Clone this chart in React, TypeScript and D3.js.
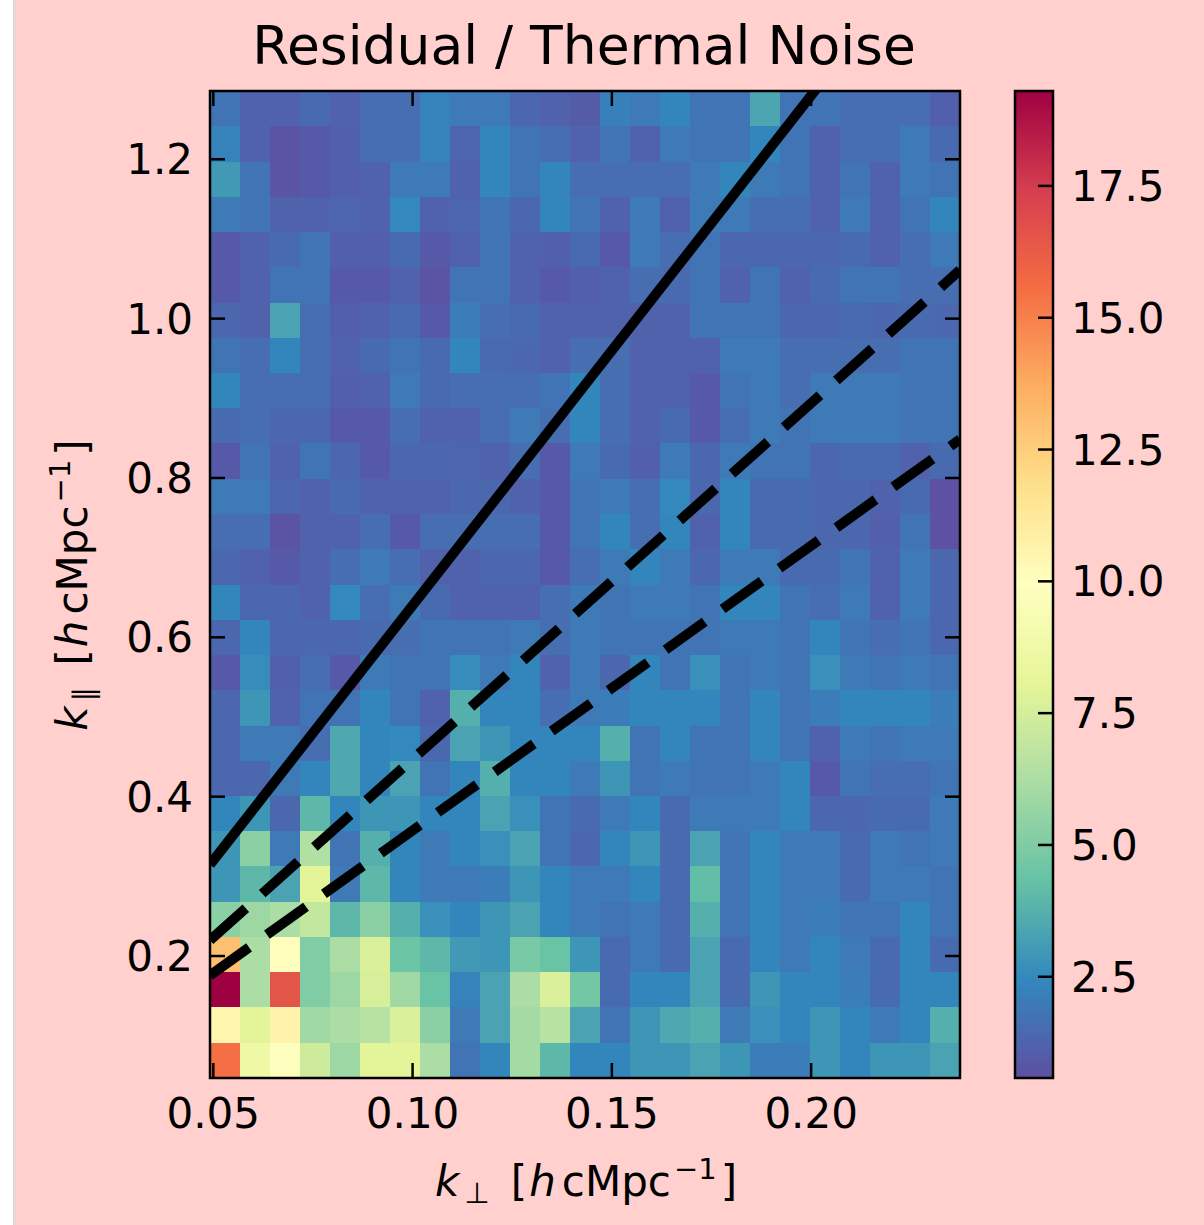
import React from 'react';
import * as d3 from 'd3';

// k_perp bin edges [h cMpc^-1] (25 bins)
const kPerpEdges = [
  0.04917, 0.0567, 0.06422, 0.07175, 0.07928, 0.08681, 0.09433, 0.10186, 0.10939,
  0.11691, 0.12444, 0.13197, 0.13949, 0.14702, 0.15455, 0.16208, 0.1696, 0.17713,
  0.18466, 0.19218, 0.19971, 0.20724, 0.21476, 0.22229, 0.22982, 0.23735,
];
// k_par bin edges [h cMpc^-1] (28 bins)
const kParEdges = [
  0.0469, 0.0911, 0.1354, 0.1796, 0.2239, 0.2681, 0.3124, 0.3566, 0.4008, 0.4451,
  0.4893, 0.5336, 0.5778, 0.6221, 0.6663, 0.7105, 0.7548, 0.799, 0.8433, 0.8875,
  0.9318, 0.976, 1.0202, 1.0645, 1.1087, 1.153, 1.1972, 1.2415, 1.2857,
];

// Residual / thermal noise ratio; rows listed from the highest k_par bin (top) down to the lowest.
const ratioRows = [
  [1.8,1.2,1.2,1.5,1.2,1.6,1.6,2.3,2.0,2.0,1.4,1.2,1.0,2.2,2.0,2.4,1.8,1.8,3.4,1.8,1.8,1.6,1.6,1.6,1.1],
  [2.3,1.2,0.7,0.9,1.1,1.6,1.6,2.3,1.3,2.4,1.8,1.6,1.2,1.8,1.2,2.0,1.8,1.8,2.4,1.8,1.2,1.6,1.6,2.0,1.5],
  [3.0,1.8,0.7,0.9,1.1,1.2,2.0,2.0,1.2,2.4,1.8,2.4,1.6,1.6,1.6,1.6,2.0,2.4,2.0,1.8,1.2,1.8,1.2,2.0,1.8],
  [2.0,1.8,1.2,1.2,1.3,1.2,2.5,1.2,1.3,1.8,1.4,2.4,1.8,1.2,2.0,1.2,2.0,2.0,1.6,1.6,1.2,2.0,1.2,1.8,2.4],
  [0.9,1.2,1.5,1.8,1.1,1.1,1.5,0.9,1.2,1.8,1.2,1.1,1.5,0.9,2.0,1.6,1.8,1.4,1.4,1.4,1.4,1.5,1.2,1.6,2.0],
  [0.9,1.2,1.8,1.8,0.9,0.9,1.2,0.7,1.8,1.8,1.2,0.9,1.1,1.2,1.6,1.5,1.8,1.2,1.8,1.2,1.5,1.8,1.8,1.6,1.6],
  [1.4,1.2,3.3,1.6,1.1,1.2,1.5,0.9,2.1,1.6,1.5,1.2,1.2,1.2,1.2,1.2,1.8,1.8,1.8,1.4,1.4,1.5,1.4,1.5,1.4],
  [1.8,1.6,2.4,1.6,1.2,1.5,1.8,1.5,2.4,1.5,1.4,1.2,1.6,1.6,1.2,1.2,1.2,2.0,2.0,1.6,1.6,1.6,1.6,1.8,1.8],
  [2.4,1.6,1.6,1.6,1.1,1.2,2.0,1.5,1.6,1.6,1.6,1.8,2.4,1.6,1.2,1.2,0.9,1.8,2.0,1.6,2.0,2.0,2.0,1.8,1.8],
  [1.5,1.6,1.4,1.4,0.9,0.9,1.6,1.2,1.2,1.6,2.0,1.6,2.4,1.6,1.2,1.5,0.9,1.6,2.0,1.8,2.0,2.0,2.0,1.8,1.8],
  [0.9,1.8,1.2,1.8,1.4,0.9,1.4,1.4,1.3,1.2,1.6,0.9,2.0,1.5,1.1,2.0,1.4,2.0,1.8,1.8,1.4,1.5,1.5,1.2,1.5],
  [2.0,2.0,1.4,1.2,1.5,1.2,1.2,1.2,1.4,1.4,1.2,0.9,1.8,2.0,1.6,2.5,1.4,2.4,1.5,1.5,1.4,1.4,1.2,1.5,0.6],
  [1.6,1.6,0.7,1.2,1.2,1.6,0.9,1.6,1.6,1.6,1.6,0.9,1.8,2.4,1.6,2.4,1.2,2.4,1.5,1.5,1.4,1.4,1.1,1.8,0.6],
  [1.4,1.2,0.9,1.2,1.6,2.0,1.6,1.2,1.2,1.4,1.4,0.9,1.6,2.0,2.4,2.0,1.4,2.0,2.0,1.5,1.5,1.8,1.2,2.0,1.4],
  [2.4,1.4,1.4,1.2,2.5,1.6,2.0,1.5,1.2,1.2,1.2,1.6,2.0,1.8,2.0,2.0,1.8,2.4,2.4,1.8,1.6,2.0,1.2,2.0,1.4],
  [1.4,2.4,1.4,1.4,1.4,1.5,1.6,1.8,1.8,1.8,2.0,1.6,2.0,1.8,1.8,1.8,1.8,2.0,2.0,1.8,2.4,1.8,1.6,1.8,1.4],
  [0.9,2.6,1.1,1.6,0.9,2.0,1.8,1.8,2.6,2.0,2.4,1.2,2.0,1.4,2.4,1.8,2.7,1.8,2.0,1.8,2.7,2.0,1.8,2.0,1.8],
  [1.4,2.9,1.2,1.8,1.8,2.4,1.8,1.2,3.7,2.4,2.4,1.6,2.0,2.1,2.4,2.4,2.4,1.8,2.4,1.8,2.1,2.4,2.4,2.4,2.1],
  [1.4,2.0,2.0,1.6,3.5,2.4,2.5,1.4,3.3,2.9,2.4,2.4,2.4,3.7,1.8,2.4,1.8,1.8,2.4,1.8,1.2,2.0,1.8,2.0,2.0],
  [1.4,1.4,2.0,2.4,3.5,2.4,3.3,1.8,2.4,3.7,2.4,2.4,2.0,2.9,1.8,2.0,1.8,1.8,2.0,2.4,0.9,1.8,1.6,1.6,1.8],
  [2.4,2.9,1.4,4.0,2.4,2.9,2.9,2.4,2.4,3.3,2.7,1.8,1.5,2.0,2.4,1.5,2.0,2.0,2.0,2.4,1.4,1.4,1.5,1.5,2.0],
  [2.9,5.3,2.0,6.4,1.8,3.7,2.4,2.0,2.4,2.7,3.3,1.8,1.4,2.4,2.9,1.5,3.3,1.8,2.4,2.0,2.0,1.5,2.0,1.8,2.0],
  [2.9,4.0,3.3,8.0,2.0,4.0,2.4,2.0,2.0,2.1,2.9,2.4,2.0,2.0,2.4,1.5,4.2,1.8,2.4,2.0,2.0,1.5,2.0,2.0,1.8],
  [5.3,5.8,6.2,7.0,4.0,5.3,3.7,2.7,2.4,2.9,3.3,2.4,2.0,1.8,2.0,1.5,3.7,1.8,2.4,2.0,2.1,1.8,1.8,2.4,1.8],
  [13.0,6.2,10.0,5.0,6.2,7.7,4.5,4.0,3.0,2.9,4.8,4.4,2.9,1.5,2.0,1.5,3.3,1.5,2.4,2.0,2.4,2.0,1.5,2.4,1.5],
  [19.3,6.2,16.5,5.0,5.8,7.6,5.9,4.4,2.3,3.3,6.2,7.7,4.7,1.5,2.4,2.4,3.3,1.5,2.9,2.4,2.4,2.1,1.5,2.4,2.4],
  [10.5,8.0,10.7,5.9,6.2,6.6,7.7,5.3,2.0,3.3,6.0,6.6,3.3,1.8,2.9,3.5,3.7,2.0,2.7,2.4,2.9,2.4,2.0,2.4,3.7],
  [15.5,8.7,9.9,7.3,5.8,8.0,8.0,6.2,1.8,2.4,6.0,4.0,2.4,2.4,2.9,2.9,3.3,2.9,2.1,2.1,2.9,2.4,2.9,2.9,3.3],
];

const colorRange = [0.58, 19.3];
const xTicks = [0.05, 0.1, 0.15, 0.2];
const xTickLabels = ['0.05', '0.10', '0.15', '0.20'];
const yTicks = [0.2, 0.4, 0.6, 0.8, 1.0, 1.2];
const yTickLabels = ['0.2', '0.4', '0.6', '0.8', '1.0', '1.2'];
const cbTicks = [2.5, 5.0, 7.5, 10.0, 12.5, 15.0, 17.5];
const cbTickLabels = ['2.5', '5.0', '7.5', '10.0', '12.5', '15.0', '17.5'];

// wedge / horizon lines: k_par = slope * k_perp
const wedgeSlopes = [6.4, 4.47, 3.575];
const wedgeDashed = [false, true, true];

// matplotlib Spectral_r stops
const spectralR = [
  '#5e4fa2', '#3288bd', '#66c2a5', '#abdda4', '#e6f598', '#ffffbf',
  '#fee08b', '#fdae61', '#f46d43', '#d53e4f', '#9e0142',
];

const FONT = 'DejaVu Sans, Verdana, sans-serif';
const BG = '#ffd0ce';

function AxisLabel({ sub }: { sub: string }) {
  return (
    <>
      <tspan fontStyle="italic">k</tspan>
      <tspan fontSize={29} dx={5} dy={7}>{sub}</tspan>
      <tspan dy={-7} dx={0}>{'\u00A0'}</tspan>
      <tspan dx={8}>[</tspan>
      <tspan fontStyle="italic" dx={2}>h</tspan>
      <tspan dx={6}>cMpc</tspan>
      <tspan fontSize={29} dx={3} dy={-17}>{'\u22121'}</tspan>
      <tspan dx={4} dy={17}>]</tspan>
    </>
  );
}

export default function App() {
  const L = 210, R = 960, T = 91, B = 1078;
  const x = d3.scaleLinear().domain([kPerpEdges[0], kPerpEdges[kPerpEdges.length - 1]]).range([L, R]);
  const y = d3.scaleLinear().domain([kParEdges[0], kParEdges[kParEdges.length - 1]]).range([B, T]);
  const [vmin, vmax] = colorRange;
  const color = d3
    .scaleLinear<string>()
    .domain(spectralR.map((_, i) => vmin + (i / (spectralR.length - 1)) * (vmax - vmin)))
    .range(spectralR)
    .interpolate(d3.interpolateRgb)
    .clamp(true);

  const nRows = ratioRows.length;
  const cells: { x0: number; x1: number; y0: number; y1: number; v: number }[] = [];
  ratioRows.forEach((row, r) => {
    const bin = nRows - 1 - r;
    row.forEach((v, c) => {
      cells.push({ x0: kPerpEdges[c], x1: kPerpEdges[c + 1], y0: kParEdges[bin], y1: kParEdges[bin + 1], v });
    });
  });

  const line = d3.line<number[]>().x((d) => x(d[0])).y((d) => y(d[1]));
  const kMin = kPerpEdges[0];
  const kMax = kPerpEdges[kPerpEdges.length - 1];

  const cbL = 1015, cbR = 1053;
  const cbY = d3.scaleLinear().domain([vmin, vmax]).range([B, T]);
  const tickLen = 15;
  const fs = 42;

  return (
    <svg
      width={1204}
      height={1225}
      style={{ position: 'absolute', left: 0, top: 0, display: 'block' }}
      xmlns="http://www.w3.org/2000/svg"
    >
      <defs>
        <clipPath id="plotClip">
          <rect x={L} y={T} width={R - L} height={B - T} />
        </clipPath>
        <linearGradient id="cbGrad" x1="0" y1="1" x2="0" y2="0">
          {spectralR.map((c, i) => (
            <stop key={i} offset={i / (spectralR.length - 1)} stopColor={c} />
          ))}
        </linearGradient>
        <linearGradient id="shadow" x1="0" y1="0" x2="1" y2="0">
          <stop offset="0" stopColor="#d8d8d8" />
          <stop offset="1" stopColor={BG} />
        </linearGradient>
      </defs>
      <rect x={0} y={0} width={1204} height={1225} fill={BG} />
      <rect x={0} y={0} width={13} height={1225} fill="#ffffff" />
      <rect x={13} y={0} width={4} height={1225} fill="url(#shadow)" />

      {/* title */}
      <text x={584} y={64} fontFamily={FONT} fontSize={53.5} textAnchor="middle" fill="#000">
        Residual / Thermal Noise
      </text>

      {/* heatmap */}
      <g shapeRendering="crispEdges">
        {cells.map((d, i) => (
          <rect
            key={i}
            x={x(d.x0)}
            y={y(d.y1)}
            width={x(d.x1) - x(d.x0) + 0.3}
            height={y(d.y0) - y(d.y1) + 0.3}
            fill={color(d.v)}
          />
        ))}
      </g>

      {/* wedge lines */}
      <g clipPath="url(#plotClip)">
        {wedgeSlopes.map((s, i) => (
          <path
            key={i}
            d={line([[kMin, s * kMin], [kMax, s * kMax]]) || ''}
            fill="none"
            stroke="#000"
            strokeWidth={10}
            strokeDasharray={wedgeDashed[i] ? '48 22' : undefined}
          />
        ))}
      </g>

      {/* ticks */}
      <g stroke="#000" strokeWidth={2.5}>
        {xTicks.map((t, i) => (
          <g key={'xt' + i}>
            <line x1={x(t)} x2={x(t)} y1={B} y2={B - tickLen} />
            <line x1={x(t)} x2={x(t)} y1={T} y2={T + tickLen} />
          </g>
        ))}
        {yTicks.map((t, i) => (
          <g key={'yt' + i}>
            <line x1={L} x2={L + tickLen} y1={y(t)} y2={y(t)} />
            <line x1={R} x2={R - tickLen} y1={y(t)} y2={y(t)} />
          </g>
        ))}
      </g>
      <rect x={L} y={T} width={R - L} height={B - T} fill="none" stroke="#000" strokeWidth={2.5} />

      {/* tick labels */}
      <g fontFamily={FONT} fontSize={fs} fill="#000">
        {xTicks.map((t, i) => (
          <text key={'xl' + i} x={x(t)} y={1128} textAnchor="middle">
            {xTickLabels[i]}
          </text>
        ))}
        {yTicks.map((t, i) => (
          <text key={'yl' + i} x={193} y={y(t) + 15} textAnchor="end">
            {yTickLabels[i]}
          </text>
        ))}
      </g>

      {/* x label */}
      <text x={586} y={1196} fontFamily={FONT} fontSize={fs} textAnchor="middle" fill="#000">
        <AxisLabel sub={'\u22A5'} />
      </text>

      {/* y label */}
      <text
        transform="translate(87,585) rotate(-90)"
        fontFamily={FONT}
        fontSize={fs}
        textAnchor="middle"
        fill="#000"
      >
        <AxisLabel sub={'\u2225'} />
      </text>

      {/* colorbar */}
      <rect x={cbL} y={T} width={cbR - cbL} height={B - T} fill="url(#cbGrad)" />
      <g stroke="#000" strokeWidth={2.5}>
        {cbTicks.map((t, i) => (
          <line key={'cbt' + i} x1={cbR} x2={cbR - tickLen} y1={cbY(t)} y2={cbY(t)} />
        ))}
      </g>
      <rect x={cbL} y={T} width={cbR - cbL} height={B - T} fill="none" stroke="#000" strokeWidth={2.5} />
      <g fontFamily={FONT} fontSize={fs} fill="#000">
        {cbTicks.map((t, i) => (
          <text key={'cbl' + i} x={1071} y={cbY(t) + 15} textAnchor="start">
            {cbTickLabels[i]}
          </text>
        ))}
      </g>
    </svg>
  );
}
